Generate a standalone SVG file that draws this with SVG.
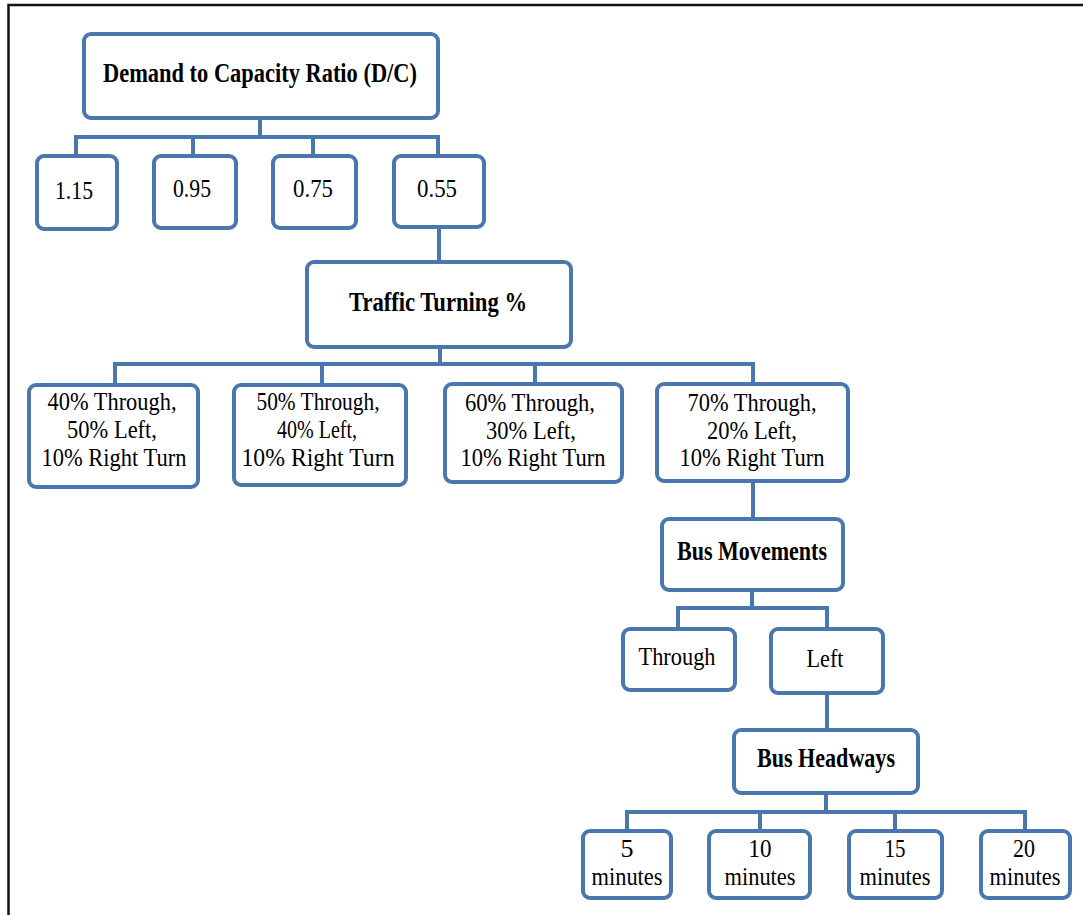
<svg xmlns="http://www.w3.org/2000/svg" width="1083" height="915" viewBox="0 0 1083 915">
<style>
.box{fill:#fff;stroke:#4a77ad;stroke-width:4}
.conn{fill:none;stroke:#4a77ad;stroke-width:4}
.frame{fill:none;stroke:#111;stroke-width:2.5}
text{font-family:"Liberation Serif","Times New Roman",serif;font-size:26px;fill:#000;text-anchor:middle}
.b{font-weight:bold;font-size:27px}
</style>
<rect width="1083" height="915" fill="#fff"/>
<path class="frame" d="M8.5,915 V5 H1083"/>
<g id="connectors">
<path class="conn" d="M260,118 V137 M76,156 V137 H438 V156 M193,137 V156 M313,137 V156"/>
<path class="conn" d="M439,227 V262"/>
<path class="conn" d="M440,347 V364 M115,385 V364 H753 V384 M322,364 V385 M535,364 V384"/>
<path class="conn" d="M753,481 V519"/>
<path class="conn" d="M752,590 V608 M678,629 V608 H827 V629"/>
<path class="conn" d="M827,693 V730"/>
<path class="conn" d="M826,793 V812 M627,831 V812 H1025 V831 M760,812 V831 M895,812 V831"/>
</g>
<g id="dc"><rect class="box" x="84" y="34" width="354" height="84" rx="7"/><text class="b" x="260" y="82" textLength="314" lengthAdjust="spacingAndGlyphs">Demand to Capacity Ratio (D/C)</text></g>
<g id="v115"><rect class="box" x="37" y="156" width="80" height="73" rx="7"/><text x="74" y="199" textLength="38" lengthAdjust="spacingAndGlyphs">1.15</text></g>
<g id="v095"><rect class="box" x="154" y="156" width="82" height="72" rx="7"/><text x="192" y="197" textLength="38" lengthAdjust="spacingAndGlyphs">0.95</text></g>
<g id="v075"><rect class="box" x="273" y="156" width="83" height="72" rx="7"/><text x="313" y="197" textLength="40" lengthAdjust="spacingAndGlyphs">0.75</text></g>
<g id="v055"><rect class="box" x="394" y="156" width="90" height="71" rx="7"/><text x="437" y="197" textLength="40" lengthAdjust="spacingAndGlyphs">0.55</text></g>
<g id="traffic"><rect class="box" x="307" y="262" width="264" height="85" rx="7"/><text class="b" x="438" y="311" textLength="178" lengthAdjust="spacingAndGlyphs">Traffic Turning %</text></g>
<g id="t40"><rect class="box" x="29" y="385" width="169" height="102" rx="7"/>
<text x="112" y="410" textLength="129" lengthAdjust="spacingAndGlyphs">40% Through,</text>
<text x="112" y="438" textLength="90" lengthAdjust="spacingAndGlyphs">50% Left,</text>
<text x="114" y="466" textLength="145" lengthAdjust="spacingAndGlyphs">10% Right Turn</text></g>
<g id="t50"><rect class="box" x="234" y="385" width="172" height="100" rx="7"/>
<text x="318" y="410" textLength="123" lengthAdjust="spacingAndGlyphs">50% Through,</text>
<text x="317" y="438" textLength="80" lengthAdjust="spacingAndGlyphs">40% Left,</text>
<text x="318" y="466" textLength="153" lengthAdjust="spacingAndGlyphs">10% Right Turn</text></g>
<g id="t60"><rect class="box" x="445" y="384" width="177" height="98" rx="7"/>
<text x="530" y="411" textLength="130" lengthAdjust="spacingAndGlyphs">60% Through,</text>
<text x="531" y="439" textLength="90" lengthAdjust="spacingAndGlyphs">30% Left,</text>
<text x="533" y="466" textLength="145" lengthAdjust="spacingAndGlyphs">10% Right Turn</text></g>
<g id="t70"><rect class="box" x="657" y="384" width="191" height="97" rx="7"/>
<text x="752" y="411" textLength="129" lengthAdjust="spacingAndGlyphs">70% Through,</text>
<text x="752" y="439" textLength="90" lengthAdjust="spacingAndGlyphs">20% Left,</text>
<text x="752" y="466" textLength="145" lengthAdjust="spacingAndGlyphs">10% Right Turn</text></g>
<g id="busmov"><rect class="box" x="662" y="519" width="181" height="71" rx="7"/><text class="b" x="752" y="560" textLength="150" lengthAdjust="spacingAndGlyphs">Bus Movements</text></g>
<g id="through"><rect class="box" x="623" y="629" width="112" height="61" rx="7"/><text x="677" y="665" textLength="77" lengthAdjust="spacingAndGlyphs">Through</text></g>
<g id="left"><rect class="box" x="771" y="629" width="112" height="64" rx="7"/><text x="825" y="667" textLength="37" lengthAdjust="spacingAndGlyphs">Left</text></g>
<g id="headways"><rect class="box" x="734" y="730" width="184" height="63" rx="7"/><text class="b" x="826" y="767" textLength="138" lengthAdjust="spacingAndGlyphs">Bus Headways</text></g>
<g id="m5"><rect class="box" x="583" y="831" width="88" height="67" rx="7"/><text x="627" y="857">5</text><text x="627" y="885" textLength="71" lengthAdjust="spacingAndGlyphs">minutes</text></g>
<g id="m10"><rect class="box" x="709" y="831" width="101" height="67" rx="7"/><text x="760" y="857" textLength="23" lengthAdjust="spacingAndGlyphs">10</text><text x="760" y="885" textLength="71" lengthAdjust="spacingAndGlyphs">minutes</text></g>
<g id="m15"><rect class="box" x="849" y="831" width="93" height="67" rx="7"/><text x="895" y="857" textLength="21" lengthAdjust="spacingAndGlyphs">15</text><text x="895" y="885" textLength="71" lengthAdjust="spacingAndGlyphs">minutes</text></g>
<g id="m20"><rect class="box" x="981" y="831" width="89" height="67" rx="7"/><text x="1024" y="857" textLength="22" lengthAdjust="spacingAndGlyphs">20</text><text x="1025" y="885" textLength="71" lengthAdjust="spacingAndGlyphs">minutes</text></g>
</svg>
